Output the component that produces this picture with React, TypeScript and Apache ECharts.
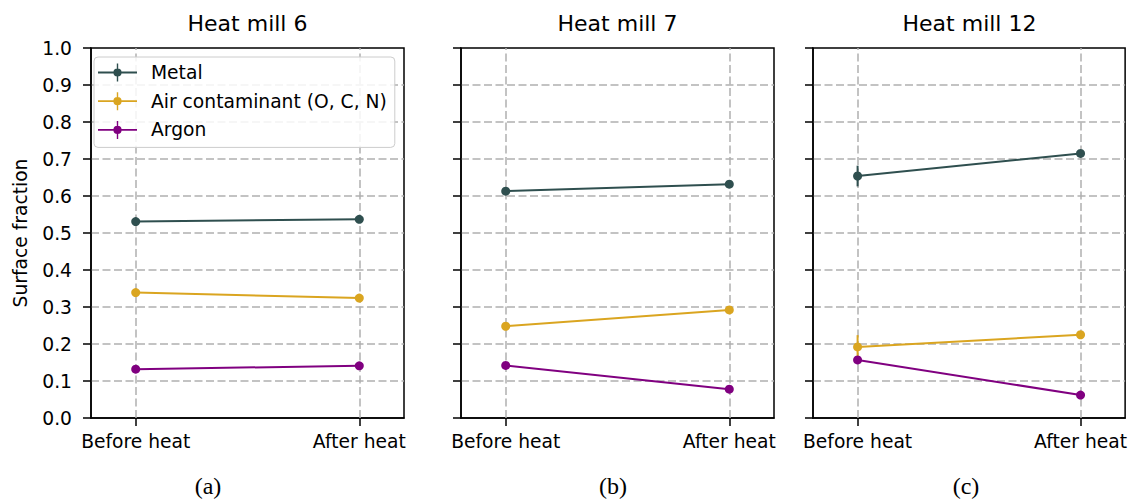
import React, { useEffect, useRef } from "react";
import * as echarts from "echarts";

const categories = ["Before heat", "After heat"];
const panelTitles = ["Heat mill 6", "Heat mill 7", "Heat mill 12"];
const panelTags = ["(a)", "(b)", "(c)"];
const seriesNames = ["Metal", "Air contaminant (O, C, N)", "Argon"];
const seriesColors = ["#2F4F4F", "#DAA520", "#800080"];

const metal6 = [0.531, 0.537];
const air6 = [0.339, 0.324];
const argon6 = [0.132, 0.141];
const metal6Err = [0.004, 0.004];
const air6Err = [0.004, 0.004];
const argon6Err = [0.003, 0.003];

const metal7 = [0.613, 0.632];
const air7 = [0.248, 0.292];
const argon7 = [0.142, 0.078];
const metal7Err = [0.004, 0.004];
const air7Err = [0.004, 0.004];
const argon7Err = [0.003, 0.003];

const metal12 = [0.654, 0.715];
const air12 = [0.192, 0.225];
const argon12 = [0.157, 0.062];
const metal12Err = [0.028, 0.004];
const air12Err = [0.032, 0.004];
const argon12Err = [0.003, 0.003];

const panelValues = [
  [metal6, air6, argon6],
  [metal7, air7, argon7],
  [metal12, air12, argon12],
];
const panelErrors = [
  [metal6Err, air6Err, argon6Err],
  [metal7Err, air7Err, argon7Err],
  [metal12Err, air12Err, argon12Err],
];

const gridLefts = [91, 461, 813];
const gridWidth = 313;
const gridTop = 48;
const gridHeight = 370;
const tagCenters = [208, 613, 966];

const FONT = "DejaVu Sans";
const FS = 18.7;
const gridLineStyle = { color: "#b0b0b0", width: 1.5, type: [8, 3.5] };
const legendIcon =
  "path://M0,8.1H39V9.9H0Z M18.8,0H20.2V18H18.8Z M15.4,9A4.1,4.1 0 0 1 23.6,9A4.1,4.1 0 0 1 15.4,9Z";

export default function App() {
  const ref = useRef<HTMLDivElement>(null);
  useEffect(() => {
    document.body.style.margin = "0";
    if (!ref.current) return;
    const chart = echarts.init(ref.current, undefined, { renderer: "svg" });

    const grids = gridLefts.map((l) => ({
      left: l,
      top: gridTop,
      width: gridWidth,
      height: gridHeight,
      show: true,
      borderColor: "#000",
      borderWidth: 1.5,
      backgroundColor: "transparent",
    }));

    const xAxes = gridLefts.map((_, i) => ({
      type: "value",
      gridIndex: i,
      min: -0.2,
      max: 1.2,
      axisLine: { show: true, onZero: false, lineStyle: { color: "#000", width: 1.5 } },
      axisTick: {
        show: true,
        customValues: categories.map((_, k) => k),
        length: 8,
        lineStyle: { color: "#000", width: 1.5 },
      },
      axisLabel: {
        show: true,
        customValues: categories.map((_, k) => k),
        formatter: (v: number) => categories[Math.round(v)] ?? "",
        fontSize: FS,
        fontFamily: FONT,
        color: "#000",
        margin: 14,
      },
      splitLine: { show: false },
    }));

    const yAxes = gridLefts.map((_, i) => ({
      type: "value",
      gridIndex: i,
      min: 0,
      max: 1,
      interval: 0.1,
      name: i === 0 ? "Surface fraction" : "",
      nameLocation: "middle",
      nameRotate: 90,
      nameGap: 61,
      nameTextStyle: { fontSize: FS, fontFamily: FONT, color: "#000" },
      axisLine: { show: true, onZero: false, lineStyle: { color: "#000", width: 1.5 } },
      axisTick: { show: true, length: 8, lineStyle: { color: "#000", width: 1.5 } },
      axisLabel: {
        show: i === 0,
        formatter: (v: number) => v.toFixed(1),
        fontSize: FS,
        fontFamily: FONT,
        color: "#000",
        margin: 19,
      },
      splitLine: {
        show: true,
        showMinLine: false,
        showMaxLine: false,
        lineStyle: gridLineStyle,
      },
    }));

    const series: any[] = [];
    panelValues.forEach((vals, p) => {
      vals.forEach((arr, s) => {
        series.push({
          type: "custom",
          name: seriesNames[s],
          xAxisIndex: p,
          yAxisIndex: p,
          z: 2,
          silent: true,
          data: arr.map((v, k) => [k, v, panelErrors[p][s][k]]),
          renderItem: (params: any, api: any) => {
            const x = api.value(0);
            const y = api.value(1);
            const e = api.value(2);
            const a = api.coord([x, y - e]);
            const b = api.coord([x, y + e]);
            return {
              type: "line",
              shape: { x1: a[0], y1: a[1], x2: b[0], y2: b[1] },
              style: { stroke: seriesColors[s], lineWidth: 2 },
            };
          },
        });
        const lineSeries: any = {
          type: "line",
          name: seriesNames[s],
          xAxisIndex: p,
          yAxisIndex: p,
          z: 3,
          data: arr.map((v, k) => [k, v]),
          symbol: "circle",
          symbolSize: 9,
          showSymbol: true,
          lineStyle: { color: seriesColors[s], width: 2 },
          itemStyle: { color: seriesColors[s] },
        };
        if (s === 0) {
          lineSeries.markLine = {
            silent: true,
            symbol: ["none", "none"],
            label: { show: false },
            z: 1,
            lineStyle: gridLineStyle,
            emphasis: { disabled: true },
            data: categories.map((_, k) => ({ xAxis: k })),
          };
        }
        series.push(lineSeries);
      });
    });

    const titles: any[] = [];
    panelTitles.forEach((t, i) => {
      titles.push({
        text: t,
        left: gridLefts[i] + gridWidth / 2,
        top: 12,
        textAlign: "center",
        padding: 0,
        textStyle: { fontSize: 22, fontWeight: "normal", fontFamily: FONT, color: "#000" },
      });
    });
    panelTags.forEach((t, i) => {
      titles.push({
        text: t,
        left: tagCenters[i],
        top: 474,
        textAlign: "center",
        padding: 0,
        textStyle: {
          fontSize: 24,
          fontWeight: "normal",
          fontFamily: "Liberation Serif",
          color: "#000",
        },
      });
    });

    chart.setOption({
      animation: false,
      color: seriesColors,
      title: titles,
      grid: grids,
      xAxis: xAxes,
      yAxis: yAxes,
      legend: {
        show: true,
        orient: "vertical",
        left: 94,
        top: 57,
        itemWidth: 39,
        itemHeight: 18,
        itemGap: 9.7,
        padding: [6, 8, 8, 4],
        backgroundColor: "rgba(255,255,255,0.85)",
        borderColor: "#cccccc",
        borderWidth: 1,
        borderRadius: 4,
        selectedMode: false,
        data: seriesNames.map((n, i) => ({
          name: n,
          icon: legendIcon,
          itemStyle: { color: seriesColors[i] },
        })),
        textStyle: {
          fontSize: FS,
          fontFamily: FONT,
          color: "#000",
          padding: [0, 0, 0, 9],
        },
      },
      series,
    });
    return () => chart.dispose();
  }, []);
  return <div ref={ref} style={{ width: 1130, height: 504 }} />;
}
